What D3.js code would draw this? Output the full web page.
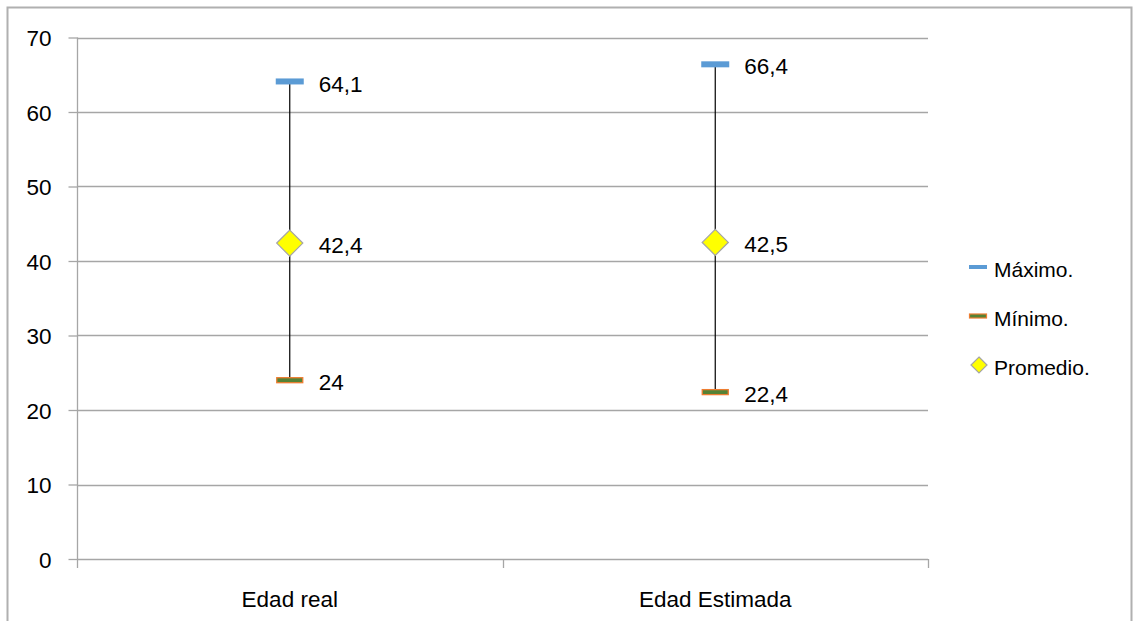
<!DOCTYPE html>
<html><head><meta charset="utf-8">
<script src="https://cdn.jsdelivr.net/npm/d3@7"></script>
<style>body{margin:0;background:#fff}svg{display:block}text{font-family:"Liberation Sans",Arial,sans-serif;fill:#000}</style>
</head><body><svg id="c" width="1136" height="621"></svg>
<script>
const categories = ["Edad real", "Edad Estimada"];
const maximo = [64.1, 66.4];
const minimo = [24, 22.4];
const promedio = [42.4, 42.5];
const maxLabels = ["64,1", "66,4"];
const minLabels = ["24", "22,4"];
const promLabels = ["42,4", "42,5"];
const yTicks = [0, 10, 20, 30, 40, 50, 60, 70];
const legendItems = ["Máximo.", "Mínimo.", "Promedio."];

const svg = d3.select("#c");
const fs = 22.5;
const grid = "#a6a6a6";
// frame
svg.append("path").attr("d", "M7.5,630V7.5H1131.5V630").attr("fill", "none").attr("stroke", "#b0b0b0").attr("stroke-width", 2);

const x = d3.scaleBand().domain(categories).range([77, 928]);
const y = d3.scaleLinear().domain([0, 70]).range([559, 37.5]);

// gridlines
svg.append("g").selectAll("line").data(yTicks.filter(d => d > 0)).join("line")
  .attr("x1", 77).attr("x2", 928).attr("y1", d => Math.round(y(d)) + 0.5).attr("y2", d => Math.round(y(d)) + 0.5)
  .attr("stroke", grid).attr("stroke-width", 1.3);

// y axis
const ya = svg.append("g").attr("transform", "translate(77.5,0)")
  .call(d3.axisLeft(y).tickValues(yTicks).tickSize(9).tickPadding(17).tickFormat(d3.format("d")));
ya.select(".domain").attr("stroke", grid).attr("stroke-width", 1.3).attr("d", "M0,37.5V559.5");
ya.selectAll(".tick line").attr("stroke", grid).attr("stroke-width", 1.3);
ya.selectAll(".tick text").attr("font-size", fs).attr("font-family", "Liberation Sans, Arial, sans-serif").attr("fill", "#000").attr("dy", "0.36em");

// x axis
const xa = svg.append("g").attr("transform", "translate(0,559.5)")
  .call(d3.axisBottom(x).tickSize(0).tickPadding(32));
xa.select(".domain").attr("stroke", grid).attr("stroke-width", 1.3).attr("d", "M77,0H928");
xa.selectAll(".tick text").attr("font-size", fs).attr("font-family", "Liberation Sans, Arial, sans-serif").attr("fill", "#000");
const bounds = [77, x(categories[1]), 928];
svg.append("g").selectAll("line").data(bounds).join("line")
  .attr("x1", d => Math.round(d) + 0.5).attr("x2", d => Math.round(d) + 0.5).attr("y1", 559).attr("y2", 568)
  .attr("stroke", grid).attr("stroke-width", 1.3);

const cx = d => x(d) + x.bandwidth() / 2;

// hi-lo lines
svg.append("g").selectAll("line").data(categories).join("line")
  .attr("x1", d => cx(d)).attr("x2", d => cx(d))
  .attr("y1", (d, i) => y(maximo[i])).attr("y2", (d, i) => y(minimo[i]))
  .attr("stroke", "#000").attr("stroke-width", 1.2);

// max markers
svg.append("g").selectAll("rect").data(categories).join("rect")
  .attr("x", d => cx(d) - 14).attr("width", 28)
  .attr("y", (d, i) => y(maximo[i]) - 3).attr("height", 6)
  .attr("fill", "#5b9bd5");
// min markers
svg.append("g").selectAll("rect").data(categories).join("rect")
  .attr("x", d => cx(d) - 13).attr("width", 26)
  .attr("y", (d, i) => y(minimo[i]) - 2.5).attr("height", 5)
  .attr("fill", "#548235").attr("stroke", "#ed7d31").attr("stroke-width", 1.3);
// promedio diamonds
svg.append("g").selectAll("path").data(categories).join("path")
  .attr("d", (d, i) => { const px = cx(d), py = y(promedio[i]); return `M${px},${py-13}L${px+13},${py}L${px},${py+13}L${px-13},${py}Z`; })
  .attr("fill", "#ffff00").attr("stroke", "#a5a5a5").attr("stroke-width", 1.3);

// labels
function labels(vals, texts, dy) {
  svg.append("g").selectAll("text").data(categories).join("text")
    .attr("x", d => cx(d) + 29).attr("y", (d, i) => y(vals[i]) + dy)
    .attr("font-size", fs).attr("dy", "0.36em").text((d, i) => texts[i]);
}
labels(maximo, maxLabels, 2);
labels(promedio, promLabels, 2);
labels(minimo, minLabels, 2);

// legend
const ly = [267, 316, 365];
const lg = svg.append("g");
lg.append("rect").attr("x", 969).attr("y", ly[0] - 2).attr("width", 18).attr("height", 4).attr("fill", "#5b9bd5");
lg.append("rect").attr("x", 969.5).attr("y", ly[1] - 2).attr("width", 17).attr("height", 4).attr("fill", "#548235").attr("stroke", "#ed7d31").attr("stroke-width", 1.2);
lg.append("path").attr("d", `M979,${ly[2]-8}L987,${ly[2]}L979,${ly[2]+8}L971,${ly[2]}Z`).attr("fill", "#ffff00").attr("stroke", "#a5a5a5").attr("stroke-width", 1.2);
lg.selectAll("text").data(legendItems).join("text")
  .attr("x", 994).attr("y", (d, i) => ly[i] + 2).attr("dy", "0.36em").attr("font-size", 21).text(d => d);
</script></body></html>
